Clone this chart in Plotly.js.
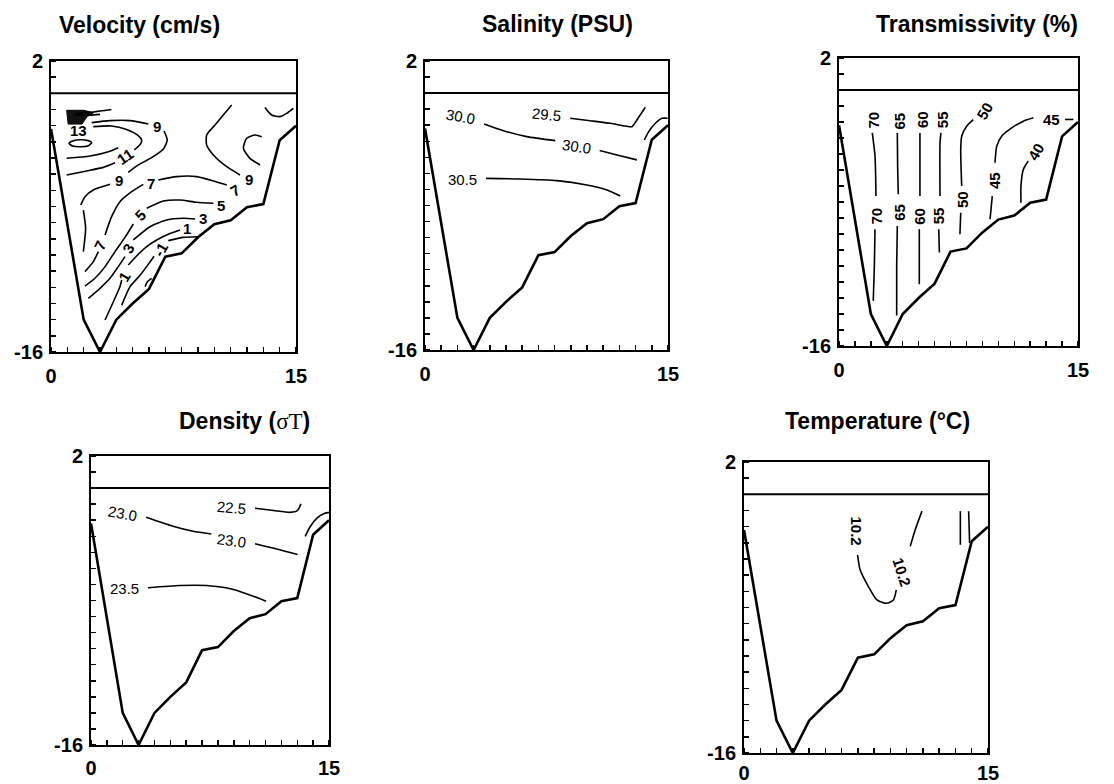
<!DOCTYPE html>
<html><head><meta charset="utf-8">
<script src="https://cdn.plot.ly/plotly-3.0.1.min.js"></script>
<style>html,body{margin:0;padding:0;background:#fff}</style>
</head><body><div id="chart" style="width:1114px;height:784px"></div>
<script>
// ---------- common section geometry (distance km, depth m) ----------
const distKm      = [0, 2, 3, 4, 5, 6, 7, 8, 9, 10, 11, 12, 13, 14, 15];
const bottomDepth = [-2.2, -14, -16, -14, -13, -12.1, -10.1, -9.9, -8.9, -8.1, -7.85, -7.05, -6.85, -2.9, -2.0];
const surfX = [0, 15];
const surfY = [0, 0];
const xTickVals = [0, 15];
const xTickText = ['0', '15'];
const yTickVals = [2, -16];
const yTickText = ['2', '-16'];

// ---------- Velocity (cm/s) ----------
const velCoreX = [0.96, 2.0, 2.6, 2.2, 1.9, 1.05, 0.96];
const velCoreY = [-1.05, -1.05, -1.2, -1.45, -1.9, -1.9, -1.05];
const velRayX = [1.5, 2.6, 3.7, null, 1.5, 2.4, 3.0];
const velRayY = [-1.25, -1.15, -1.0, null, -1.35, -1.35, -1.3];
const velLoopX = [1.10, 1.37, 1.78, 2.22, 2.49, 2.29, 1.78, 1.33, 1.10];
const velLoopY = [-3.09, -2.93, -2.87, -2.91, -3.05, -3.24, -3.30, -3.26, -3.09];
const velInnerX = [0.96, 2.39, 3.51, 4.12];
const velInnerY = [-4.02, -3.88, -3.61, -3.36];
const vel11X = [0.96, 2.18, 3.20, 3.92, null, 5.10, 5.49, 5.55, 5.24, 4.63, 3.71, 2.59];
const vel11Y = [-5.05, -4.80, -4.58, -4.29, null, -3.50, -3.13, -2.89, -2.54, -2.23, -2.02, -2.06];
const vel9X = [2.49, 3.61, 4.84, 5.96, null, 6.92, 7.12, 6.88, 6.16, 5.35, 4.73, null, 3.61, 2.59, 2.08, 1.82, null, 1.98, 2.12, 1.98, null, 11.06, 10.55, 10.04, 9.53, 9.53, 9.94, 10.76, 11.57];
const vel9Y = [-1.81, -1.69, -1.69, -1.90, null, -2.33, -2.89, -3.44, -3.98, -4.43, -4.89, null, -5.63, -5.98, -6.39, -6.91, null, -7.22, -8.35, -9.79, null, -0.72, -1.34, -1.96, -2.58, -3.20, -3.81, -4.54, -5.05];
const velRightX = [12.80, 12.18, 11.78, 11.98, 12.49, 12.90, null, 13.10, 13.51, 14.02, 14.43, 14.84];
const velRightY = [-4.43, -4.02, -3.40, -2.78, -2.58, -2.68, null, -0.87, -1.34, -1.44, -1.24, -0.93];
const vel7X = [2.08, 2.59, 2.90, null, 3.31, 3.71, 4.22, 4.94, 5.65, null, 6.57, 7.69, 8.92, 9.94, 10.76];
const vel7Y = [-11.03, -10.41, -9.79, null, -8.76, -7.63, -6.70, -6.08, -5.63, null, -5.36, -5.15, -5.15, -5.42, -5.67];
const vel5X = [2.08, 2.69, 3.31, 3.92, 4.53, 5.04, null, 5.86, 6.88, 7.90, 8.92, 9.94];
const vel5Y = [-11.92, -11.44, -10.72, -9.79, -8.91, -8.08, null, -7.11, -6.66, -6.60, -6.74, -6.80];
const vel3X = [2.29, 3.0, 3.61, 4.12, 4.53, null, 5.04, 6.06, 7.08, 8.10, 8.82];
const vel3Y = [-12.68, -12.06, -11.44, -10.72, -10.10, null, -9.07, -8.25, -7.84, -7.73, -7.77];
const vel1X = [3.31, 3.82, 4.22, 4.33, null, 4.73, 5.24, 5.86, 6.47, 7.18, 7.90];
const vel1Y = [-14.02, -12.89, -11.96, -11.55, null, -10.62, -10.06, -9.48, -9.07, -8.71, -8.45];
const velM1X = [4.33, 4.84, 5.45, 6.06, 6.31, null, 7.18, 8.10, 8.96, null, 5.76, 5.90, 6.16];
const velM1Y = [-13.10, -11.96, -11.26, -10.43, -10.08, null, -9.11, -8.91, -8.87, null, -11.96, -11.65, -11.44];
const velLabText = ['13', '9', '11', '9', '9', '7', '7', '7', '5', '5', '3', '3', '1', '1', '-1'];
const velLabX = [1.71, 6.51, 4.53, 4.16, 12.14, 3.0, 6.10, 11.27, 5.45, 10.39, 4.73, 9.29, 4.49, 8.31, 6.71];
const velLabY = [-2.31, -2.06, -3.88, -5.42, -5.36, -9.42, -5.57, -6.02, -7.53, -6.91, -9.59, -7.73, -11.32, -8.39, -9.67];

// ---------- Salinity (PSU) ----------
const sal295X = [8.96, 10.20, 11.44, 12.36, 12.78, 13.08, 13.60];
const sal295Y = [-1.57, -1.72, -1.88, -2.05, -2.09, -1.67, -0.88];
const sal300X = [3.65, 4.84, 6.28, 8.04, null, 10.78, 11.85, 13.08];
const sal300Y = [-1.92, -2.34, -2.71, -2.96, null, -3.58, -3.85, -4.16];
const sal305X = [3.77, 5.87, 8.14, 9.99, 11.23, 12.05];
const sal305Y = [-5.31, -5.35, -5.45, -5.72, -6.03, -6.41];
const salEdgeX = [13.54, 13.81, 14.22, 14.63, 14.98];
const salEdgeY = [-2.92, -2.40, -1.88, -1.57, -1.57];
const salLabText = ['29.5', '30.0', '30.0', '30.5'];
const salLabX = [7.52, 2.20, 9.38, 2.33];
const salLabY = [-1.36, -1.47, -3.33, -5.41];

// ---------- Transmissivity (%) ----------
const tr70X = [2.09, 2.26, 2.32, null, 2.26, 2.22, 2.15];
const tr70Y = [-2.68, -4.13, -6.63, null, -8.70, -11.0, -13.18];
const tr65X = [3.66, 3.68, 3.72, null, 3.66, 3.62, 3.62];
const tr65Y = [-2.68, -4.76, -6.52, null, -8.50, -11.0, -14.1];
const tr60X = [5.08, 5.08, 5.08, null, 5.04, 5.04];
const tr60Y = [-2.68, -4.76, -6.63, null, -8.70, -12.14];
const tr55X = [6.40, 6.34, 6.34, null, 6.26, 6.30];
const tr55Y = [-2.68, -3.30, -6.63, null, -8.70, -10.16];
const tr50X = [8.43, 8.01, 7.70, 7.64, 7.70, null, 7.64, 7.59];
const tr50Y = [-1.85, -2.26, -2.89, -3.72, -6.0, null, -7.67, -9.02];
const tr45X = [12.2, 11.57, 10.84, 10.21, 9.90, 9.79, null, 9.62, 9.48, null, 14.18, 14.71];
const tr45Y = [-1.74, -1.95, -2.37, -2.89, -3.51, -4.55, null, -6.63, -8.08, null, -1.84, -1.84];
const tr40X = [11.88, 11.57, 11.42, 11.42];
const tr40Y = [-4.44, -4.96, -6.0, -7.04];
const trLabText = ['70', '70', '65', '65', '60', '60', '55', '55', '50', '50', '45', '45', '40'];
const trLabX = [2.15, 2.36, 3.79, 3.83, 5.25, 5.08, 6.51, 6.30, 9.16, 7.76, 13.31, 9.73, 12.36];
const trLabY = [-1.89, -7.87, -1.95, -7.67, -1.84, -7.87, -1.84, -7.87, -1.28, -6.84, -1.84, -5.69, -3.82];

// ---------- Density (sigma-T) ----------
const den225X = [10.34, 11.50, 12.55, 13.02, 13.23];
const den225Y = [-1.25, -1.39, -1.51, -1.39, -0.98];
const den230X = [3.48, 5.17, 6.43, 7.59, null, 10.34, 11.71, 13.02];
const den230Y = [-1.82, -2.38, -2.69, -2.86, null, -3.46, -3.79, -4.14];
const den235X = [3.59, 5.59, 7.28, 8.97, 10.23, 11.03];
const den235Y = [-6.21, -6.07, -6.07, -6.31, -6.73, -7.04];
const denEdgeX = [13.5, 13.82, 14.24, 14.66, 15.0];
const denEdgeY = [-3.0, -2.39, -1.87, -1.60, -1.51];
const denLabText = ['22.5', '23.0', '23.0', '23.5'];
const denLabX = [8.86, 2.0, 8.86, 2.11];
const denLabY = [-1.18, -1.56, -3.25, -6.27];

// ---------- Temperature (°C) ----------
const tmp102X = [6.98, 7.14, 7.65, 8.17, 8.78, 9.19, 9.36, null, 10.22, 10.53, 10.94];
const tmp102Y = [-3.74, -4.67, -5.71, -6.53, -6.74, -6.53, -5.91, null, -3.22, -2.18, -1.04];
const tmpEdgeX = [13.30, 13.30, null, 13.81, 13.87];
const tmpEdgeY = [-1.04, -3.12, null, -1.04, -3.01];
const tmpLabText = ['10.2', '10.2'];
const tmpLabX = [6.94, 9.71];
const tmpLabY = [-2.29, -4.84];

// ---------- styling / layout ----------
const FONT = 'Liberation Sans, Arial, Helvetica, sans-serif';
const W = 1114, H = 784;
const frames = [
  {l: 51, r: 296, t: 61, b: 352, so: 5},
  {l: 425, r: 668, t: 61, b: 350, so: 5},
  {l: 839, r: 1078, t: 58, b: 346, so: 5},
  {l: 91, r: 329, t: 456, b: 745, so: 4},
  {l: 744, r: 988, t: 462, b: 753, so: 1}
];
const titles = [
  {text: 'Velocity (cm/s)', x: 139, y: 25},
  {text: 'Salinity (PSU)', x: 557, y: 24},
  {text: 'Transmissivity (%)', x: 977, y: 24},
  {text: 'Density (<span style="font-family:Liberation Serif;font-weight:normal">σT</span>)', x: 244, y: 421},
  {text: 'Temperature (°C)', x: 877, y: 421}
];

const traces = [];
function line(xs, ys, p, w) {
  const s = p === 0 ? '' : String(p + 1);
  traces.push({type: 'scatter', mode: 'lines', x: xs, y: ys, xaxis: 'x' + s, yaxis: 'y' + s,
    line: {color: '#000', width: w || 1.6, shape: 'spline', smoothing: 0.6}, connectgaps: false,
    hoverinfo: 'skip', showlegend: false});
}
function straight(xs, ys, p, w) {
  const s = p === 0 ? '' : String(p + 1);
  traces.push({type: 'scatter', mode: 'lines', x: xs, y: ys, xaxis: 'x' + s, yaxis: 'y' + s,
    line: {color: '#000', width: w}, hoverinfo: 'skip', showlegend: false});
}

// bathymetry + surface on every panel
for (let p = 0; p < 5; p++) {
  straight(distKm, bottomDepth, p, 2.6);
  straight(surfX, surfY, p, 2);
}
// velocity
traces.push({type: 'scatter', mode: 'lines', x: velCoreX, y: velCoreY, xaxis: 'x', yaxis: 'y',
  fill: 'toself', fillcolor: '#111', line: {color: '#000', width: 1}, hoverinfo: 'skip', showlegend: false});
[[velRayX, velRayY], [velLoopX, velLoopY], [velInnerX, velInnerY], [vel11X, vel11Y], [vel9X, vel9Y],
 [velRightX, velRightY], [vel7X, vel7Y], [vel5X, vel5Y], [vel3X, vel3Y], [vel1X, vel1Y], [velM1X, velM1Y]]
  .forEach(d => line(d[0], d[1], 0));
// salinity
[[sal295X, sal295Y], [sal300X, sal300Y], [sal305X, sal305Y], [salEdgeX, salEdgeY]].forEach(d => line(d[0], d[1], 1));
// transmissivity
[[tr70X, tr70Y], [tr65X, tr65Y], [tr60X, tr60Y], [tr55X, tr55Y], [tr50X, tr50Y], [tr45X, tr45Y], [tr40X, tr40Y]]
  .forEach(d => line(d[0], d[1], 2));
// density
[[den225X, den225Y], [den230X, den230Y], [den235X, den235Y], [denEdgeX, denEdgeY]].forEach(d => line(d[0], d[1], 3));
// temperature
[[tmp102X, tmp102Y], [tmpEdgeX, tmpEdgeY]].forEach(d => line(d[0], d[1], 4));

const layout = {
  width: W, height: H, margin: {l: 0, r: 0, t: 0, b: 0}, autosize: false,
  paper_bgcolor: '#fff', plot_bgcolor: '#fff', showlegend: false, hovermode: false,
  font: {family: FONT, color: '#000'}, annotations: []
};
frames.forEach((f, i) => {
  const s = i === 0 ? '' : String(i + 1);
  const common = {showgrid: false, zeroline: false, showline: true, linecolor: '#000', linewidth: 2,
    mirror: true, ticks: '', fixedrange: true,
    tickfont: {family: FONT, size: 20, weight: 'bold', color: '#000'}};
  layout['xaxis' + s] = Object.assign({}, common, {
    domain: [f.l / W, f.r / W], range: [0, 15], anchor: 'y' + s,
    tickmode: 'array', tickvals: xTickVals, ticktext: xTickText, ticklabelstandoff: f.so,
    minor: {tickmode: 'linear', tick0: 0, dtick: 1, ticks: 'inside', ticklen: 5, tickwidth: 1.5, tickcolor: '#000', showgrid: false}
  });
  layout['yaxis' + s] = Object.assign({}, common, {
    domain: [1 - f.b / H, 1 - f.t / H], range: [-16, 2], anchor: 'x' + s,
    tickmode: 'array', tickvals: yTickVals, ticktext: yTickText, ticklabelstandoff: 2,
    minor: {tickmode: 'linear', tick0: 0, dtick: 1, ticks: 'inside', ticklen: 5, tickwidth: 1.5, tickcolor: '#000', showgrid: false}
  });
});
titles.forEach(t => layout.annotations.push({xref: 'paper', yref: 'paper', x: t.x / W, y: 1 - t.y / H,
  text: t.text, showarrow: false, xanchor: 'center', yanchor: 'middle',
  font: {family: FONT, size: 23, weight: 'bold', color: '#000'}}));

function labels(texts, xs, ys, angles, p, size, weight) {
  const s = p === 0 ? '' : String(p + 1);
  texts.forEach((t, i) => layout.annotations.push({xref: 'x' + s, yref: 'y' + s, x: xs[i], y: ys[i],
    text: t, showarrow: false, textangle: angles[i], xanchor: 'center', yanchor: 'middle',
    font: {family: FONT, size: size, weight: weight, color: '#000'}}));
}
labels(velLabText, velLabX, velLabY, [0, 0, -35, 0, 0, -65, 0, -30, -45, 0, -60, 0, -60, 0, -60], 0, 15, 'bold');
labels(salLabText, salLabX, salLabY, [6, 10, 8, 0], 1, 15, 'normal');
labels(trLabText, trLabX, trLabY, [-90, -90, -90, -90, -90, -90, -90, -90, -60, -90, 0, -90, -60], 2, 15, 'bold');
labels(denLabText, denLabX, denLabY, [5, 10, 8, 0], 3, 15, 'normal');
labels(tmpLabText, tmpLabX, tmpLabY, [90, 72], 4, 15, 'bold');

Plotly.newPlot('chart', traces, layout, {displayModeBar: false, staticPlot: true});
</script></body></html>
